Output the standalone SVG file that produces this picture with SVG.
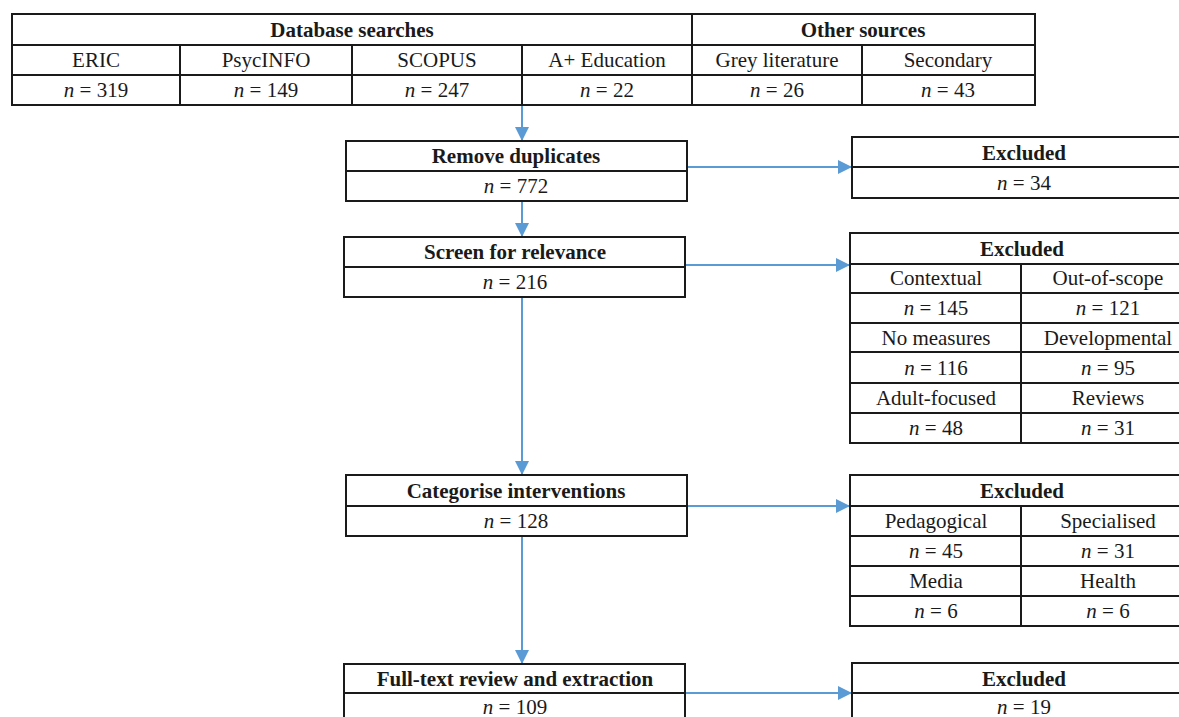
<svg xmlns="http://www.w3.org/2000/svg" width="1179" height="717" viewBox="0 0 1179 717">
<style>
.b{fill:#fff;stroke:#1a1a1a;stroke-width:2}
.l{stroke:#1a1a1a;stroke-width:2;fill:none}
text{font-family:"Liberation Serif","DejaVu Serif",serif;font-size:21px;fill:#1a1a1a;text-anchor:middle}
.h{font-weight:bold}
.c{stroke:#5b9bd5;stroke-width:2;fill:none}
</style>
<defs>
<marker id="ar" markerUnits="userSpaceOnUse" markerWidth="14" markerHeight="14" viewBox="0 0 12 12" refX="12" refY="6" orient="auto">
<path d="M0,0 L12,6 L0,12 z" fill="#5b9bd5"/>
</marker>
</defs>
<rect width="1179" height="717" fill="#fff"/>
<g id="connectors">
<line class="c" x1="522" y1="105" x2="522" y2="141" marker-end="url(#ar)"/>
<line class="c" x1="522" y1="201" x2="522" y2="237" marker-end="url(#ar)"/>
<line class="c" x1="522" y1="297" x2="522" y2="475" marker-end="url(#ar)"/>
<line class="c" x1="522" y1="536" x2="522" y2="664" marker-end="url(#ar)"/>
<line class="c" x1="687" y1="167" x2="852" y2="167" marker-end="url(#ar)"/>
<line class="c" x1="685" y1="265" x2="850" y2="265" marker-end="url(#ar)"/>
<line class="c" x1="687" y1="506" x2="850" y2="506" marker-end="url(#ar)"/>
<line class="c" x1="685" y1="693" x2="852" y2="693" marker-end="url(#ar)"/>
</g>
<g id="sources">
<rect class="b" x="12" y="14" width="1023" height="91"/>
<line class="l" x1="12" y1="45" x2="1035" y2="45"/>
<line class="l" x1="12" y1="75" x2="1035" y2="75"/>
<line class="l" x1="692" y1="14" x2="692" y2="105"/>
<line class="l" x1="180" y1="45" x2="180" y2="105"/>
<line class="l" x1="352" y1="45" x2="352" y2="105"/>
<line class="l" x1="522" y1="45" x2="522" y2="105"/>
<line class="l" x1="862" y1="45" x2="862" y2="105"/>
<text class="h" x="352" y="37">Database searches</text>
<text class="h" x="863" y="37">Other sources</text>
<text x="96" y="67">ERIC</text>
<text x="266" y="67">PsycINFO</text>
<text x="437" y="67">SCOPUS</text>
<text x="607" y="67">A+ Education</text>
<text x="777" y="67">Grey literature</text>
<text x="948" y="67">Secondary</text>
<text x="96" y="97"><tspan font-style="italic">n</tspan> = 319</text>
<text x="266" y="97"><tspan font-style="italic">n</tspan> = 149</text>
<text x="437" y="97"><tspan font-style="italic">n</tspan> = 247</text>
<text x="607" y="97"><tspan font-style="italic">n</tspan> = 22</text>
<text x="777" y="97"><tspan font-style="italic">n</tspan> = 26</text>
<text x="948" y="97"><tspan font-style="italic">n</tspan> = 43</text>
</g>
<g id="remove-duplicates">
<rect class="b" x="346" y="141" width="341" height="60"/>
<line class="l" x1="346" y1="171" x2="687" y2="171"/>
<text class="h" x="516" y="163">Remove duplicates</text>
<text x="516" y="193"><tspan font-style="italic">n</tspan> = 772</text>
</g>
<g id="excluded-1">
<rect class="b" x="852" y="137" width="343" height="61"/>
<line class="l" x1="852" y1="167" x2="1195" y2="167"/>
<text class="h" x="1024" y="160">Excluded</text>
<text x="1024" y="190"><tspan font-style="italic">n</tspan> = 34</text>
</g>
<g id="screen-relevance">
<rect class="b" x="344" y="237" width="341" height="60"/>
<line class="l" x1="344" y1="267" x2="685" y2="267"/>
<text class="h" x="515" y="259">Screen for relevance</text>
<text x="515" y="289"><tspan font-style="italic">n</tspan> = 216</text>
</g>
<g id="excluded-2">
<rect class="b" x="850" y="233" width="345" height="210"/>
<line class="l" x1="850" y1="264" x2="1195" y2="264"/>
<line class="l" x1="850" y1="293" x2="1195" y2="293"/>
<line class="l" x1="850" y1="323" x2="1195" y2="323"/>
<line class="l" x1="850" y1="352" x2="1195" y2="352"/>
<line class="l" x1="850" y1="383" x2="1195" y2="383"/>
<line class="l" x1="850" y1="413" x2="1195" y2="413"/>
<line class="l" x1="1021" y1="264" x2="1021" y2="443"/>
<text class="h" x="1022" y="256">Excluded</text>
<text x="936" y="285">Contextual</text>
<text x="1108" y="285">Out-of-scope</text>
<text x="936" y="315"><tspan font-style="italic">n</tspan> = 145</text>
<text x="1108" y="315"><tspan font-style="italic">n</tspan> = 121</text>
<text x="936" y="345">No measures</text>
<text x="1108" y="345">Developmental</text>
<text x="936" y="375"><tspan font-style="italic">n</tspan> = 116</text>
<text x="1108" y="375"><tspan font-style="italic">n</tspan> = 95</text>
<text x="936" y="405">Adult-focused</text>
<text x="1108" y="405">Reviews</text>
<text x="936" y="435"><tspan font-style="italic">n</tspan> = 48</text>
<text x="1108" y="435"><tspan font-style="italic">n</tspan> = 31</text>
</g>
<g id="categorise">
<rect class="b" x="346" y="475" width="341" height="61"/>
<line class="l" x1="346" y1="506" x2="687" y2="506"/>
<text class="h" x="516" y="498">Categorise interventions</text>
<text x="516" y="528"><tspan font-style="italic">n</tspan> = 128</text>
</g>
<g id="excluded-3">
<rect class="b" x="850" y="475" width="345" height="151"/>
<line class="l" x1="850" y1="506" x2="1195" y2="506"/>
<line class="l" x1="850" y1="536" x2="1195" y2="536"/>
<line class="l" x1="850" y1="566" x2="1195" y2="566"/>
<line class="l" x1="850" y1="596" x2="1195" y2="596"/>
<line class="l" x1="1021" y1="506" x2="1021" y2="626"/>
<text class="h" x="1022" y="498">Excluded</text>
<text x="936" y="528">Pedagogical</text>
<text x="1108" y="528">Specialised</text>
<text x="936" y="558"><tspan font-style="italic">n</tspan> = 45</text>
<text x="1108" y="558"><tspan font-style="italic">n</tspan> = 31</text>
<text x="936" y="588">Media</text>
<text x="1108" y="588">Health</text>
<text x="936" y="618"><tspan font-style="italic">n</tspan> = 6</text>
<text x="1108" y="618"><tspan font-style="italic">n</tspan> = 6</text>
</g>
<g id="full-text">
<rect class="b" x="344" y="664" width="341" height="70"/>
<line class="l" x1="344" y1="693" x2="685" y2="693"/>
<text class="h" x="515" y="686">Full-text review and extraction</text>
<text x="515" y="714"><tspan font-style="italic">n</tspan> = 109</text>
</g>
<g id="excluded-4">
<rect class="b" x="852" y="663" width="343" height="70"/>
<line class="l" x1="852" y1="693" x2="1195" y2="693"/>
<text class="h" x="1024" y="686">Excluded</text>
<text x="1024" y="714"><tspan font-style="italic">n</tspan> = 19</text>
</g>
</svg>
